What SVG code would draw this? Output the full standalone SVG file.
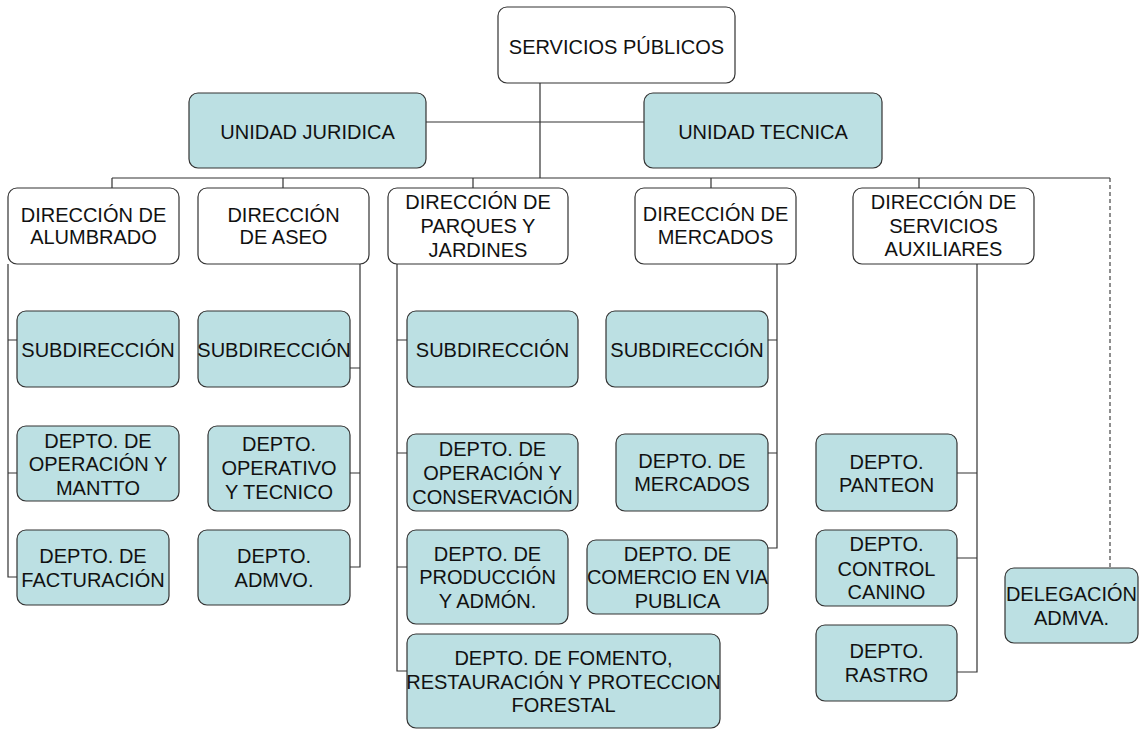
<svg xmlns="http://www.w3.org/2000/svg" width="1144" height="730" viewBox="0 0 1144 730">
<style>
.w{fill:#ffffff;stroke:#333333;stroke-width:1.2}
.b{fill:#bce0e3;stroke:#333333;stroke-width:1.2}
text{font-family:"Liberation Sans",Arial,sans-serif;font-size:20px;fill:#111111;text-anchor:middle}
.c{fill:none;stroke:#333333;stroke-width:1.2}
.d{fill:none;stroke:#444444;stroke-width:1.2;stroke-dasharray:4,3}
</style>
<rect width="1144" height="730" fill="#ffffff"/>
<g id="connectors">
<path class="c" d="M540,83V178M426,122H644M112,178H1110M112,178V188M283,178V188M473,178V188M711,178V188M919,178V188"/>
<path class="d" d="M1110,178V568"/>
<path class="c" d="M8,264V577H17M8,340H17M8,473H17"/>
<path class="c" d="M360,264V567H350M350,368H360M350,473H360"/>
<path class="c" d="M397,264V671H407M397,340H407M397,453H407M397,567H407"/>
<path class="c" d="M777,264V548H768M768,340H777M768,453H777"/>
<path class="c" d="M977,264V672H957M957,473H977M957,558H977"/>
</g>
<g id="servicios-publicos"><rect class="w" x="498" y="7" width="237" height="76" rx="9"/><text x="616.5" y="54">SERVICIOS PÚBLICOS</text></g>
<g id="unidad-juridica"><rect class="b" x="189" y="93" width="237" height="75" rx="9"/><text x="307.5" y="139">UNIDAD JURIDICA</text></g>
<g id="unidad-tecnica"><rect class="b" x="644" y="93" width="238" height="75" rx="9"/><text x="763" y="139">UNIDAD TECNICA</text></g>

<g id="dir-alumbrado"><rect class="w" x="8" y="188" width="171" height="76" rx="9"/><text x="93.5" y="222">DIRECCIÓN DE</text><text x="93.5" y="244">ALUMBRADO</text></g>
<g id="dir-aseo"><rect class="w" x="198" y="188" width="171" height="76" rx="9"/><text x="283.5" y="222">DIRECCIÓN</text><text x="283.5" y="244">DE ASEO</text></g>
<g id="dir-parques"><rect class="w" x="388" y="188" width="180" height="76" rx="9"/><text x="478" y="209">DIRECCIÓN DE</text><text x="478" y="233">PARQUES Y</text><text x="478" y="257">JARDINES</text></g>
<g id="dir-mercados"><rect class="w" x="635" y="188" width="161" height="76" rx="9"/><text x="715.5" y="221">DIRECCIÓN DE</text><text x="715.5" y="244">MERCADOS</text></g>
<g id="dir-auxiliares"><rect class="w" x="853" y="188" width="181" height="76" rx="9"/><text x="943.5" y="209">DIRECCIÓN DE</text><text x="943.5" y="233">SERVICIOS</text><text x="943.5" y="256">AUXILIARES</text></g>

<g id="alum-subdir"><rect class="b" x="17" y="311" width="162" height="76" rx="9"/><text x="98" y="357">SUBDIRECCIÓN</text></g>
<g id="alum-operacion"><rect class="b" x="17" y="426" width="162" height="75" rx="9"/><text x="98" y="448">DEPTO. DE</text><text x="98" y="471">OPERACIÓN Y</text><text x="98" y="495">MANTTO</text></g>
<g id="alum-facturacion"><rect class="b" x="17" y="530" width="152" height="75" rx="9"/><text x="93" y="563">DEPTO. DE</text><text x="93" y="587">FACTURACIÓN</text></g>

<g id="aseo-subdir"><rect class="b" x="198" y="311" width="152" height="76" rx="9"/><text x="274" y="357">SUBDIRECCIÓN</text></g>
<g id="aseo-operativo"><rect class="b" x="208" y="426" width="142" height="85" rx="9"/><text x="279" y="451">DEPTO.</text><text x="279" y="475">OPERATIVO</text><text x="279" y="499">Y TECNICO</text></g>
<g id="aseo-admvo"><rect class="b" x="198" y="530" width="152" height="75" rx="9"/><text x="274" y="563">DEPTO.</text><text x="274" y="587">ADMVO.</text></g>

<g id="parq-subdir"><rect class="b" x="407" y="311" width="171" height="76" rx="9"/><text x="492.5" y="357">SUBDIRECCIÓN</text></g>
<g id="parq-operacion"><rect class="b" x="407" y="434" width="171" height="77" rx="9"/><text x="492.5" y="456">DEPTO. DE</text><text x="492.5" y="480">OPERACIÓN Y</text><text x="492.5" y="504">CONSERVACIÓN</text></g>
<g id="parq-produccion"><rect class="b" x="407" y="530" width="161" height="94" rx="9"/><text x="487.5" y="561">DEPTO. DE</text><text x="487.5" y="584">PRODUCCIÓN</text><text x="487.5" y="608">Y ADMÓN.</text></g>
<g id="parq-fomento"><rect class="b" x="407" y="634" width="313" height="94" rx="9"/><text x="563.5" y="665">DEPTO. DE FOMENTO,</text><text x="563.5" y="689">RESTAURACIÓN Y PROTECCION</text><text x="563.5" y="712">FORESTAL</text></g>

<g id="merc-subdir"><rect class="b" x="606" y="311" width="162" height="76" rx="9"/><text x="687" y="357">SUBDIRECCIÓN</text></g>
<g id="merc-mercados"><rect class="b" x="616" y="434" width="152" height="77" rx="9"/><text x="692" y="468">DEPTO. DE</text><text x="692" y="491">MERCADOS</text></g>
<g id="merc-comercio"><rect class="b" x="587" y="540" width="181" height="74" rx="9"/><text x="677.5" y="561">DEPTO. DE</text><text x="677.5" y="584">COMERCIO EN VIA</text><text x="677.5" y="608">PUBLICA</text></g>

<g id="aux-panteon"><rect class="b" x="816" y="434" width="141" height="77" rx="9"/><text x="886.5" y="469">DEPTO.</text><text x="886.5" y="492">PANTEON</text></g>
<g id="aux-canino"><rect class="b" x="816" y="530" width="141" height="76" rx="9"/><text x="886.5" y="551">DEPTO.</text><text x="886.5" y="576">CONTROL</text><text x="886.5" y="599">CANINO</text></g>
<g id="aux-rastro"><rect class="b" x="816" y="625" width="141" height="76" rx="9"/><text x="886.5" y="658">DEPTO.</text><text x="886.5" y="682">RASTRO</text></g>

<g id="delegacion"><rect class="b" x="1005" y="568" width="133" height="75" rx="9"/><text x="1071.5" y="601">DELEGACIÓN</text><text x="1071.5" y="625">ADMVA.</text></g>
</svg>
